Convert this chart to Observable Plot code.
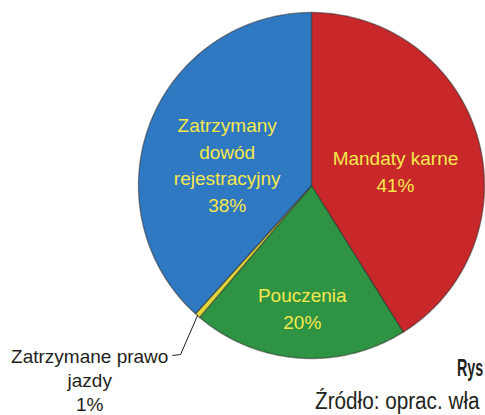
<!DOCTYPE html>
<html><head><meta charset="utf-8">
<script src="https://cdn.jsdelivr.net/npm/d3@7"></script>
<script src="https://cdn.jsdelivr.net/npm/@observablehq/plot@0.6"></script>
<style>
html,body{margin:0;padding:0;background:#fff;overflow:hidden;width:485px;height:415px}
#wrap{position:relative;width:485px;height:415px;overflow:hidden}
.cap{position:absolute;white-space:nowrap;font-family:"Liberation Sans",Arial,sans-serif;color:#231f20;line-height:1;transform-origin:0 0}
</style></head><body><div id="wrap"></div>
<script>
// ---- data ----
const categories = ["Mandaty karne", "Pouczenia", "Zatrzymane prawo jazdy", "Zatrzymany dowód rejestracyjny"];
const labelTexts = ["Mandaty karne", "Pouczenia", "Zatrzymane prawo\njazdy", "Zatrzymany\ndowód\nrejestracyjny"];
const shares = [41.1, 20.1, 0.5, 38.3];          // slice sizes as drawn
const shareLabels = ["41%", "20%", "1%", "38%"];  // percentages as printed
const colors = ["#c8282a", "#2e9343", "#e3d83c", "#2f78c2"];
const captionTitle = "Rys";
const captionSource = "Źródło: oprac. wła";

// ---- layout (not data) ----
const insideLabel = { // radius fraction and angle tweak (deg) for inside labels
  "Mandaty karne": [0.494, 5.4],
  "Pouczenia": [0.704, 0.2],
  "Zatrzymany dowód rejestracyjny": [0.504, -6.3]
};
const outsideLabel = "Zatrzymane prawo jazdy";

const total = d3.sum(shares);
let acc = 0;
const slices = categories.map((c, i) => {
  const a0 = acc / total * 360; acc += shares[i];
  const a1 = acc / total * 360;
  return {cat: c, a0, a1, mid: (a0 + a1) / 2, pct: shareLabels[i], text: labelTexts[i]};
});
const pt = (deg, r) => ({x: r * Math.sin(deg * Math.PI / 180), y: r * Math.cos(deg * Math.PI / 180)});

const poly = [];
for (const s of slices) {
  poly.push({cat: s.cat, x: 0, y: 0});
  const n = Math.max(2, Math.ceil(s.a1 - s.a0));
  for (let k = 0; k <= n; k++) {
    const p = pt(s.a0 + (s.a1 - s.a0) * k / n, 1);
    poly.push({cat: s.cat, ...p});
  }
  poly.push({cat: s.cat, x: 0, y: 0});
}

const inLabels = slices.filter(s => insideLabel[s.cat]).map(s => {
  const [r, da] = insideLabel[s.cat];
  return {...pt(s.mid + da, r), text: s.text + "\n" + s.pct};
});

const os = slices.find(s => s.cat === outsideLabel);
const p0 = pt(os.mid, 1.0);
const elbow = {x: p0.x - 0.098, y: p0.y - 0.225};
const tail = {x: elbow.x - 0.045, y: elbow.y - 0.005};
const leader = [p0, elbow, tail];
const outLabel = [{x: tail.x - 0.48, y: tail.y - 0.14, text: os.text + "\n" + os.pct}];

const font = "'Liberation Sans', Arial, sans-serif";
const chart = Plot.plot({
  width: 485, height: 415,
  marginLeft: 138, marginRight: 1, marginTop: 12, marginBottom: 57,
  x: {domain: [-1, 1], axis: null},
  y: {domain: [-1, 1], axis: null},
  color: {domain: categories, range: colors},
  style: {overflow: "visible", fontFamily: font, background: "white"},
  marks: [
    Plot.line(poly, {x: "x", y: "y", z: "cat", fill: "cat", stroke: "#2a2a2a", strokeOpacity: 0.5, strokeWidth: 1.4, strokeLinejoin: "round", curve: "linear"}),
    Plot.line(leader, {x: "x", y: "y", stroke: "#231f20", strokeWidth: 1, curve: "linear"}),
    Plot.text(inLabels, {x: "x", y: "y", text: "text", fill: "#f4e84c", fontSize: 19, lineHeight: 1.4, fontFamily: font}),
    Plot.text(outLabel, {x: "x", y: "y", text: "text", fill: "#231f20", fontSize: 19, lineHeight: 1.27, fontFamily: font})
  ]
});
const wrap = document.getElementById("wrap");
wrap.appendChild(chart);
const t = document.createElement("div");
t.className = "cap"; t.textContent = captionTitle;
t.style.cssText = "left:457px;top:357px;font-size:23.5px;font-weight:bold;transform:scaleX(0.61)";
wrap.appendChild(t);
const s2 = document.createElement("div");
s2.className = "cap"; s2.textContent = captionSource;
s2.style.cssText = "left:315px;top:389.5px;font-size:23px;transform:scaleX(0.9)";
wrap.appendChild(s2);
</script></body></html>
